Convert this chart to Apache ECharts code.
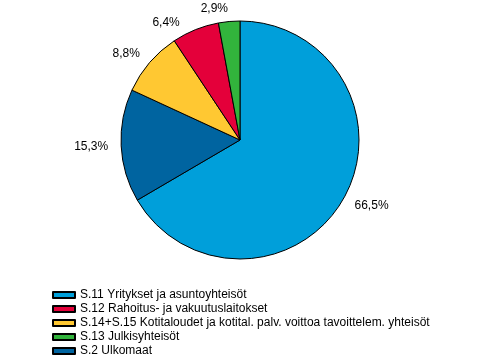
<!DOCTYPE html>
<html><head><meta charset="utf-8">
<script src="https://cdn.jsdelivr.net/npm/echarts@6/dist/echarts.min.js"></script>
<style>html,body{margin:0;padding:0;background:#fff}#c{width:480px;height:360px}</style>
</head><body><div id="c"></div>
<script>
var categories = ["S.11 Yritykset ja asuntoyhteisöt","S.2 Ulkomaat","S.14+S.15 Kotitaloudet ja kotital. palv. voittoa tavoittelem. yhteisöt","S.12 Rahoitus- ja vakuutuslaitokset","S.13 Julkisyhteisöt"];
var values = [66.5, 15.3, 8.8, 6.4, 2.9];
var colors = ["#009fda","#0064a0","#ffc832","#e4003a","#32b43c"];
var legendOrder = ["S.11 Yritykset ja asuntoyhteisöt","S.12 Rahoitus- ja vakuutuslaitokset","S.14+S.15 Kotitaloudet ja kotital. palv. voittoa tavoittelem. yhteisöt","S.13 Julkisyhteisöt","S.2 Ulkomaat"];

var data = categories.map(function(n,i){return {name:n, value:values[i], itemStyle:{color:colors[i]}};});
var chart = echarts.init(document.getElementById('c'), null, {renderer:'canvas'});
chart.setOption({
  animation:false,
  textStyle:{fontFamily:'Liberation Sans, Arial, sans-serif'},
  legend:{
    orient:'vertical', left:52, top:289, height:80, padding:0,
    itemWidth:22, itemHeight:6, itemGap:2, itemTextGap:3,
    data:legendOrder, icon:'rect',
    textStyle:{fontSize:12, color:'#000', fontFamily:'Liberation Sans, Arial, sans-serif'}
  },
  series:[{
    type:'pie', center:[240,140], radius:[0,119], startAngle:90, clockwise:true,
    data:data,
    itemStyle:{borderColor:'#000', borderWidth:1},
    label:{show:true, position:'outside', fontSize:12, color:'#000', distanceToLabelLine:0,
      fontFamily:'Liberation Sans, Arial, sans-serif',
      formatter:function(p){return p.value.toFixed(1).replace('.',',')+'%';}},
    labelLine:{show:false, length:13, length2:0},
    emphasis:{disabled:true}
  }]
});
</script></body></html>
